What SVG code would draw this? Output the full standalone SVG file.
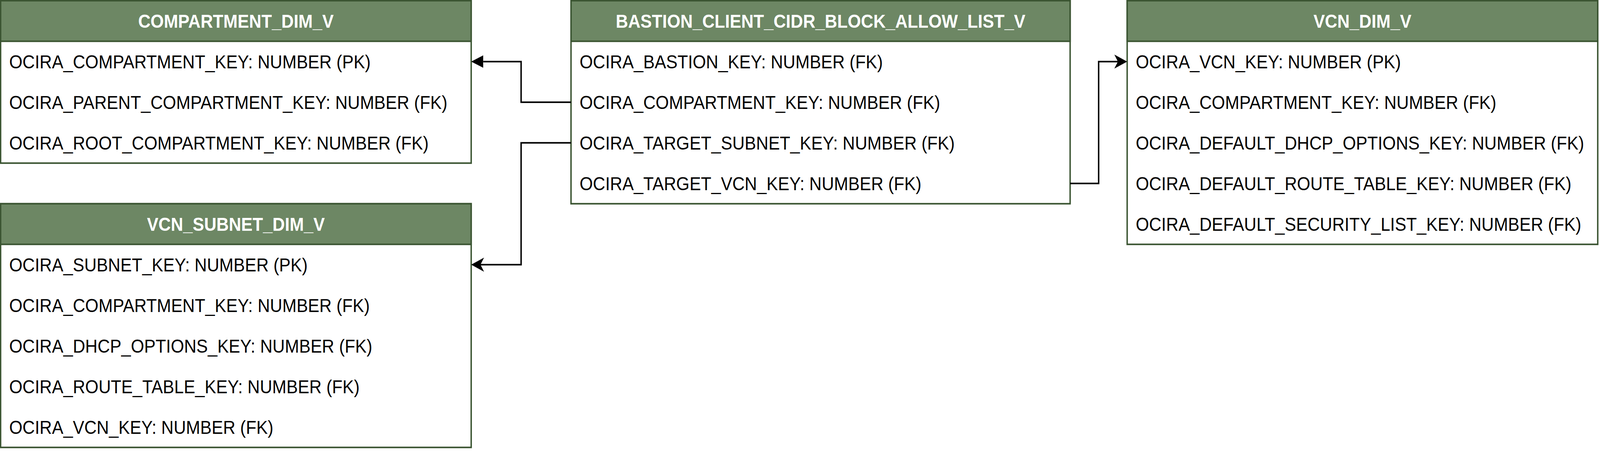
<svg xmlns="http://www.w3.org/2000/svg" width="4488" height="1160" viewBox="0 0 4488 1160" preserveAspectRatio="none" style="width:100vw;height:100vh;display:block">
<style>
.body{fill:#ffffff;stroke:#3A5431;stroke-width:4}
.head{fill:#6D8764;stroke:#3A5431;stroke-width:4}
.title{font-family:"Liberation Sans",Arial,sans-serif;font-size:48px;font-weight:bold;fill:#ffffff;text-anchor:middle}
.row{font-family:"Liberation Sans",Arial,sans-serif;font-size:48px;fill:#000000}
.conn{fill:none;stroke:#000000;stroke-width:4}
</style>
<defs>
<marker id="block" markerUnits="userSpaceOnUse" markerWidth="36" markerHeight="34" refX="0" refY="16" orient="auto" viewBox="0 0 36 34">
<path d="M0,0 L34,16 L0,32 Z" fill="#000000"/>
</marker>
<marker id="classic" markerUnits="userSpaceOnUse" markerWidth="38" markerHeight="38" refX="10" refY="18" orient="auto" viewBox="0 0 38 38">
<path d="M0,0 L36,18 L0,36 L10,18 Z" fill="#000000"/>
</marker>
</defs>
<rect x="0" y="0" width="4488" height="1160" fill="#ffffff"/>

<g id="compartment_dim_v">
<rect class="body" x="1.7" y="1.7" width="1320" height="416"/>
<rect class="head" x="1.7" y="1.7" width="1320" height="104"/>
<text class="title" x="661.7" y="70.7">COMPARTMENT_DIM_V</text>
<text class="row" x="25.7" y="174.7">OCIRA_COMPARTMENT_KEY: NUMBER (PK)</text>
<text class="row" x="25.7" y="278.7">OCIRA_PARENT_COMPARTMENT_KEY: NUMBER (FK)</text>
<text class="row" x="25.7" y="382.7">OCIRA_ROOT_COMPARTMENT_KEY: NUMBER (FK)</text>
</g>

<g id="vcn_subnet_dim_v">
<rect class="body" x="1.7" y="521.7" width="1320" height="624"/>
<rect class="head" x="1.7" y="521.7" width="1320" height="104"/>
<text class="title" x="661.7" y="590.7">VCN_SUBNET_DIM_V</text>
<text class="row" x="25.7" y="694.7">OCIRA_SUBNET_KEY: NUMBER (PK)</text>
<text class="row" x="25.7" y="798.7">OCIRA_COMPARTMENT_KEY: NUMBER (FK)</text>
<text class="row" x="25.7" y="902.7">OCIRA_DHCP_OPTIONS_KEY: NUMBER (FK)</text>
<text class="row" x="25.7" y="1006.7">OCIRA_ROUTE_TABLE_KEY: NUMBER (FK)</text>
<text class="row" x="25.7" y="1110.7">OCIRA_VCN_KEY: NUMBER (FK)</text>
</g>

<g id="bastion_client_cidr_block_allow_list_v">
<rect class="body" x="1601.7" y="1.7" width="1400" height="520"/>
<rect class="head" x="1601.7" y="1.7" width="1400" height="104"/>
<text class="title" x="2301.7" y="70.7">BASTION_CLIENT_CIDR_BLOCK_ALLOW_LIST_V</text>
<text class="row" x="1625.7" y="174.7">OCIRA_BASTION_KEY: NUMBER (FK)</text>
<text class="row" x="1625.7" y="278.7">OCIRA_COMPARTMENT_KEY: NUMBER (FK)</text>
<text class="row" x="1625.7" y="382.7">OCIRA_TARGET_SUBNET_KEY: NUMBER (FK)</text>
<text class="row" x="1625.7" y="486.7">OCIRA_TARGET_VCN_KEY: NUMBER (FK)</text>
</g>

<g id="vcn_dim_v">
<rect class="body" x="3161.7" y="1.7" width="1320" height="624"/>
<rect class="head" x="3161.7" y="1.7" width="1320" height="104"/>
<text class="title" x="3821.7" y="70.7">VCN_DIM_V</text>
<text class="row" x="3185.7" y="174.7">OCIRA_VCN_KEY: NUMBER (PK)</text>
<text class="row" x="3185.7" y="278.7">OCIRA_COMPARTMENT_KEY: NUMBER (FK)</text>
<text class="row" x="3185.7" y="382.7">OCIRA_DEFAULT_DHCP_OPTIONS_KEY: NUMBER (FK)</text>
<text class="row" x="3185.7" y="486.7">OCIRA_DEFAULT_ROUTE_TABLE_KEY: NUMBER (FK)</text>
<text class="row" x="3185.7" y="590.7">OCIRA_DEFAULT_SECURITY_LIST_KEY: NUMBER (FK)</text>
</g>

<g id="connectors">
<path class="conn" d="M1601.7,261.7 H1461.7 V157.7 H1355.7" marker-end="url(#block)"/>
<path class="conn" d="M1601.7,365.7 H1461.7 V677.7 H1347.7" marker-end="url(#classic)"/>
<path class="conn" d="M3001.7,469.7 H3081.7 V157.7 H3135.7" marker-end="url(#classic)"/>
</g>
</svg>
